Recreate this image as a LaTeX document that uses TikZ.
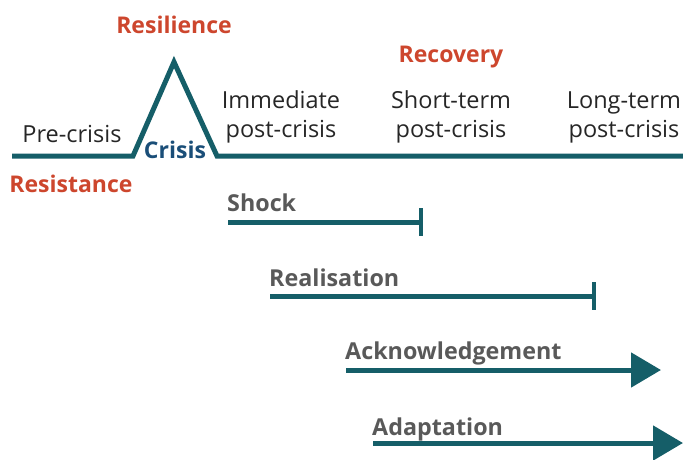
\documentclass[tikz,border=0pt]{standalone}
\usepackage{fontspec}
\setmainfont{Open Sans}
\usetikzlibrary{arrows.meta}
\definecolor{teal1}{RGB}{21,94,104}
\definecolor{redl}{RGB}{205,70,45}
\definecolor{bluel}{RGB}{26,78,120}
\definecolor{grayl}{RGB}{89,89,89}
\definecolor{blk}{RGB}{38,38,38}
\tikzset{
  tl/.style={draw=teal1,line width=5pt},
  phase/.style={font=\fontsize{23.5}{29}\selectfont,text=blk,align=center,inner sep=0pt},
  head/.style={font=\fontsize{23}{28}\selectfont\bfseries,text=redl,inner sep=0pt},
  stage/.style={font=\fontsize{23.3}{28}\selectfont\bfseries,text=grayl,inner sep=0pt,anchor=west},
  bararr/.style={tl,-{Bar[width=28pt,line width=4pt]}},
  triarr/.style={tl,-{Triangle[length=30pt,width=34pt]}}
}
\begin{document}
\begin{tikzpicture}[x=1pt,y=-1pt]
\useasboundingbox (0,0) rectangle (683,460);
% main timeline
\coordinate (L) at (12,156);
\coordinate (T1) at (133,156);
\coordinate (P) at (174,62);
\coordinate (T2) at (217,156);
\coordinate (R) at (683,156);
\draw[tl,line join=miter] (L) -- (T1) -- (P) -- (T2) -- (R);
% labels
\node[head] (res) at (174,25) {Resilience};
\node[phase] (pre) at (72,134) {Pre-crisis};
\node[font=\fontsize{23}{27}\selectfont\bfseries,text=bluel,inner sep=0pt] (cri) at (175,150) {Crisis};
\node[head] (rst) at (71,184) {Resistance};
\node[phase] (imm) at (281,117) {Immediate\\post-crisis};
\node[head] (rec) at (451,57) {Recovery};
\node[phase] (sho) at (451,117) {Short-term\\post-crisis};
\node[phase] (lon) at (624,117) {Long-term\\post-crisis};
% stages
\node[stage] (shock) at (227,203) {Shock};
\coordinate (s1) at (228,222); \coordinate (s2) at (423,222);
\draw[bararr] (s1) -- (s2);
\node[stage] (real) at (269,278) {Realisation};
\coordinate (r1) at (270,296); \coordinate (r2) at (596,296);
\draw[bararr] (r1) -- (r2);
\node[stage] (ack) at (345,353) {Acknowledgement};
\coordinate (a1) at (346,370); \coordinate (a2) at (661,370);
\draw[triarr] (a1) -- (a2);
\node[stage] (ada) at (372,429) {Adaptation};
\coordinate (d1) at (373,443); \coordinate (d2) at (683,443);
\draw[triarr] (d1) -- (d2);
\end{tikzpicture}
\end{document}
